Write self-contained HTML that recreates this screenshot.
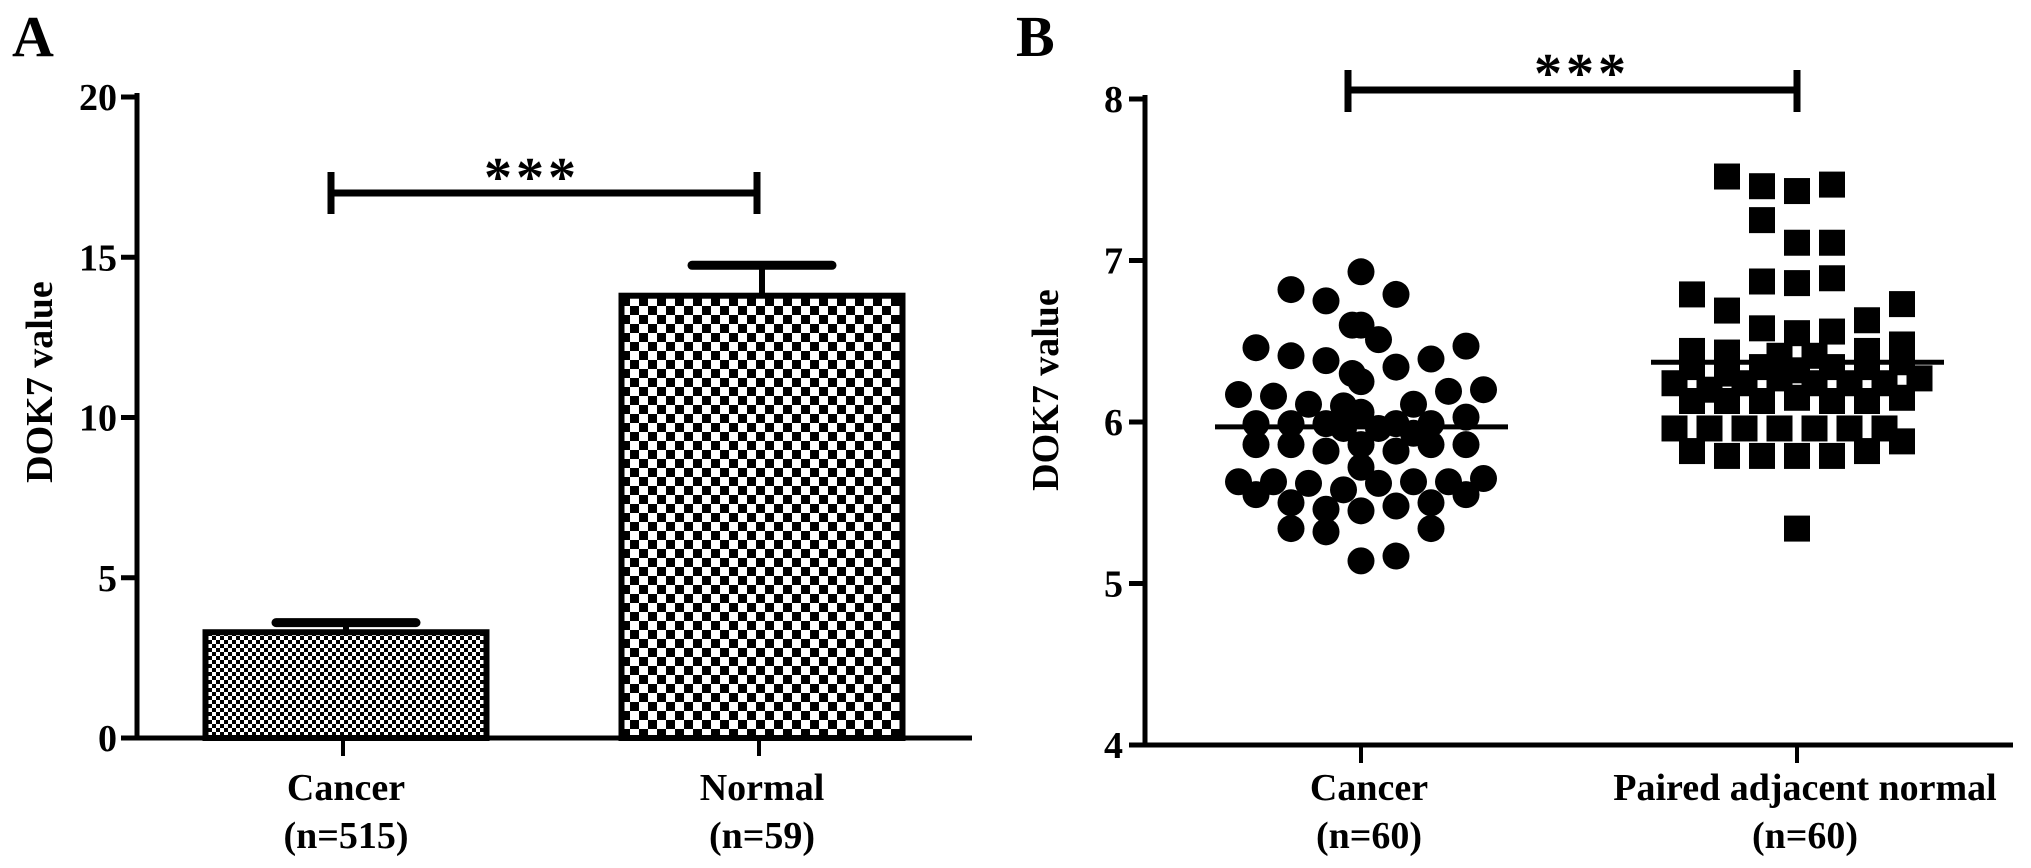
<!DOCTYPE html>
<html><head><meta charset="utf-8"><style>
html,body{margin:0;padding:0;background:#fff;}
svg{display:block;font-family:"Liberation Serif",serif;font-weight:bold;}
</style></head><body>
<svg id="fig" width="2031" height="868" viewBox="0 0 2031 868" xmlns="http://www.w3.org/2000/svg">
<defs>
<pattern id="fine" width="8" height="8" patternUnits="userSpaceOnUse"><rect width="8" height="8" fill="#fff"/><rect width="4" height="4" fill="#000"/><rect x="4" y="4" width="4" height="4" fill="#000"/></pattern>
<pattern id="coarse" width="18" height="18" patternUnits="userSpaceOnUse"><rect width="18" height="18" fill="#fff"/><rect width="9" height="9" fill="#000"/><rect x="9" y="9" width="9" height="9" fill="#000"/></pattern>
</defs>
<g id="panelA"></g>
<g id="panelB"></g>
</svg>
<script>
// Panel A data
const aCategories = ["Cancer", "Normal"];
const aCounts = ["(n=515)", "(n=59)"];
const aMeans = [3.3, 13.8];
const aErrors = [0.3, 0.95];
const aTicks = [0, 5, 10, 15, 20];
// Panel B data
const bCategories = ["Cancer", "Paired adjacent normal"];
const bCounts = ["(n=60)", "(n=60)"];
const bTicks = [4, 5, 6, 7, 8];
const cancerValues = [6.93,6.82,6.79,6.75,6.46,6.47,6.41,6.38,6.34,6.39,6.60,6.51,6.17,6.16,6.20,6.19,6.60,6.11,6.11,5.99,5.99,5.99,6.06,5.99,5.99,6.03,5.96,5.96,5.86,5.86,5.82,5.86,5.82,5.86,5.86,5.72,5.63,5.63,5.62,5.58,5.62,5.63,5.63,5.65,5.55,5.55,5.50,5.46,5.48,5.50,5.34,5.32,5.45,5.34,5.14,5.17,6.10,5.93,6.25,6.30];
const cancerJitter = [0,-0.4,0.2,-0.2,-0.6,0.6,-0.4,-0.2,0.2,0.4,0,0.1,-0.7,-0.5,0.7,0.5,-0.05,-0.3,0.3,-0.6,-0.4,-0.2,0,0.2,0.4,0.6,-0.1,0.1,-0.6,-0.4,-0.2,0,0.2,0.4,0.6,0,-0.7,-0.5,-0.3,-0.1,0.1,0.3,0.5,0.7,-0.6,0.6,-0.4,-0.2,0.2,0.4,-0.4,-0.2,0,0.4,0,0.2,-0.1,0.3,0,-0.05];
const cancerMedian = 5.97;
const normalValues = [7.52,7.46,7.43,7.47,7.25,7.11,7.11,6.79,6.69,6.87,6.86,6.89,6.73,6.63,6.58,6.55,6.56,6.44,6.43,6.44,6.48,6.24,6.20,6.24,6.27,6.24,6.24,6.24,6.27,6.41,6.41,6.13,6.13,6.13,6.15,6.13,6.13,6.15,5.96,5.96,5.96,5.96,5.96,5.96,5.96,5.82,5.79,5.79,5.79,5.79,5.82,5.88,5.34,6.34,6.34,6.30,6.34,6.32,6.37,6.34];
const normalJitter = [-0.4,-0.2,0,0.2,-0.2,0,0.2,-0.6,-0.4,-0.2,0,0.2,0.6,0.4,-0.2,0,0.2,-0.6,-0.4,0.4,0.6,-0.7,-0.5,-0.3,-0.1,0.1,0.3,0.5,0.7,-0.1,0.1,-0.6,-0.4,-0.2,0,0.2,0.4,0.6,-0.7,-0.5,-0.3,-0.1,0.1,0.3,0.5,-0.6,-0.4,-0.2,0,0.2,0.4,0.6,0,-0.2,0.2,-0.4,0.4,0,0.6,-0.6];
const normalMean = 6.37;

const NS = "http://www.w3.org/2000/svg";
function mk(parent, tag, attrs, text){
  const e = document.createElementNS(NS, tag);
  for (const k in attrs) e.setAttribute(k, attrs[k]);
  if (text !== undefined) e.textContent = text;
  parent.appendChild(e);
  return e;
}
// ---------- Panel A ----------
const A = document.getElementById("panelA");
const aX0 = 137, aX1 = 972, aY0 = 738, aY1 = 97, aMax = 20;
const aY = v => aY0 - (v / aMax) * (aY0 - aY1);
const aCenters = [346, 762];
const aBarW = [281, 281];
let t;
t = mk(A, "text", {x: 12, y: 56, "font-size": 58}, "A");


t = mk(A, "text", {transform: "translate(52,382) rotate(-90)", "text-anchor": "middle", "font-size": 38}, "DOK7 value");


aTicks.forEach(v => {
  const l = mk(A, "line", {x1: aX0 - 16, x2: aX0, y1: aY(v), y2: aY(v), stroke: "#000", "stroke-width": 5});
  
  
  const tx = mk(A, "text", {x: aX0 - 20, y: aY(v) + 13, "text-anchor": "end", "font-size": 38}, String(v));
  
  
});
aCategories.forEach((c, i) => {
  const cx = aCenters[i], w = aBarW[i];
  const ey = aY(aMeans[i] + aErrors[i]);
  const el = mk(A, "line", {x1: cx, x2: cx, y1: aY(aMeans[i]), y2: ey, stroke: "#000", "stroke-width": 6});
  
  
  const cap = mk(A, "line", {x1: cx - 70, x2: cx + 70, y1: ey, y2: ey, stroke: "#000", "stroke-width": 9, "stroke-linecap": "round"});
  
  
  const r = mk(A, "rect", {x: cx - w/2, y: aY(aMeans[i]), width: w, height: aY0 - aY(aMeans[i]), fill: i === 0 ? "url(#fine)" : "url(#coarse)", stroke: "#000", "stroke-width": 6});
  
  
  const tk = mk(A, "line", {x1: cx - 3, x2: cx - 3, y1: aY0, y2: aY0 + 18, stroke: "#000", "stroke-width": 4});
  
  
  const l1 = mk(A, "text", {x: cx, y: 800, "text-anchor": "middle", "font-size": 38}, c);
  
  
  const l2 = mk(A, "text", {x: cx, y: 848, "text-anchor": "middle", "font-size": 38}, aCounts[i]);
  
  
});
t = mk(A, "path", {d: `M${aX0},${aY1 - 4} V${aY0} H${aX1}`, fill: "none", stroke: "#000", "stroke-width": 5});


t = mk(A, "path", {d: "M331,193 H757 M331,172 V214 M757,172 V214", stroke: "#000", "stroke-width": 7, fill: "none"});


t = mk(A, "text", {x: 532, y: 196, "text-anchor": "middle", "font-size": 56, "letter-spacing": 4}, "***");



// ---------- Panel B ----------
const B = document.getElementById("panelB");
const bX0 = 1145, bX1 = 2013, bY0 = 745, bY1 = 99, bMin = 4, bMax = 8;
const bY = v => bY0 - (v - bMin) / (bMax - bMin) * (bY0 - bY1);
const bCenters = [1361, 1797];
const spread = 175;
t = mk(B, "text", {x: 1016, y: 56, "font-size": 58}, "B");


t = mk(B, "text", {transform: "translate(1058,390) rotate(-90)", "text-anchor": "middle", "font-size": 38}, "DOK7 value");


bTicks.forEach(v => {
  const l = mk(B, "line", {x1: bX0 - 16, x2: bX0, y1: bY(v), y2: bY(v), stroke: "#000", "stroke-width": 5});
  
  
  const tx = mk(B, "text", {x: bX0 - 22, y: bY(v) + 13, "text-anchor": "end", "font-size": 38}, String(v));
  
  
});
cancerValues.forEach((v, i) => {
  const c = mk(B, "circle", {cx: bCenters[0] + cancerJitter[i] * spread, cy: bY(v), r: 13.5, fill: "#000"});
  
  
});
normalValues.forEach((v, i) => {
  const s = mk(B, "rect", {x: bCenters[1] + normalJitter[i] * spread - 13, y: bY(v) - 13, width: 26, height: 26, fill: "#000"});
  
  
});
t = mk(B, "line", {x1: bCenters[0] - 146, x2: bCenters[0] + 147, y1: bY(cancerMedian), y2: bY(cancerMedian), stroke: "#000", "stroke-width": 5});


t = mk(B, "line", {x1: bCenters[1] - 146, x2: bCenters[1] + 147, y1: bY(normalMean), y2: bY(normalMean), stroke: "#000", "stroke-width": 5});


bCategories.forEach((c, i) => {
  const cx = bCenters[i];
  const tk = mk(B, "line", {x1: cx, x2: cx, y1: bY0, y2: bY0 + 18, stroke: "#000", "stroke-width": 4});
  
  
  const l1 = mk(B, "text", {x: cx + 8, y: 800, "text-anchor": "middle", "font-size": 38}, c);
  
  
  const l2 = mk(B, "text", {x: cx + 8, y: 848, "text-anchor": "middle", "font-size": 38}, bCounts[i]);
  
  
});
t = mk(B, "path", {d: `M${bX0},${bY1 - 4} V${bY0} H${bX1}`, fill: "none", stroke: "#000", "stroke-width": 5});


t = mk(B, "path", {d: "M1348,90 H1797 M1348,70 V112 M1797,70 V112", stroke: "#000", "stroke-width": 7, fill: "none"});


t = mk(B, "text", {x: 1582, y: 92, "text-anchor": "middle", "font-size": 56, "letter-spacing": 4}, "***");


</script>
</body></html>
